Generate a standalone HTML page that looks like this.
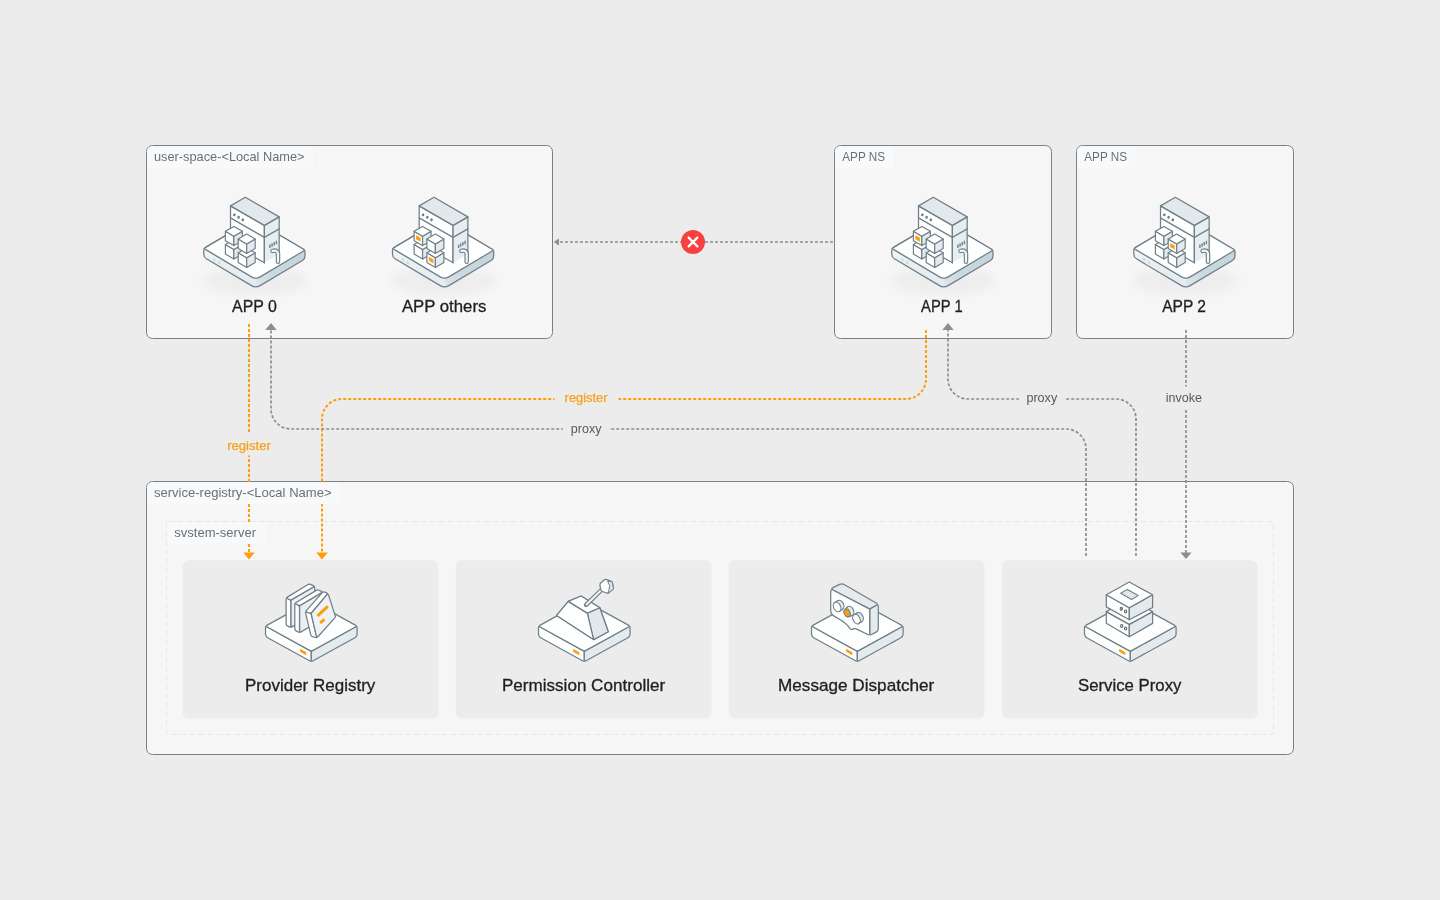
<!DOCTYPE html>
<html lang="en"><head><meta charset="utf-8"><title>Service Registry Architecture</title>
<style>html,body{margin:0;padding:0;background:#ececec;}body{width:1440px;height:900px;overflow:hidden;}svg{display:block;will-change:transform;}text{font-family:"Liberation Sans", "Noto Sans CJK SC", sans-serif;}.lbl{font-size:12.4px;fill:#6c7076;}.ttl{font-size:16.3px;fill:#1f1f1f;stroke:#1f1f1f;stroke-width:0.3px;}.ln{font-size:12.4px;}.g{fill:none;stroke:#8d8d8d;stroke-width:1.7;stroke-dasharray:3 2;}.o{fill:none;stroke:#ff9d0a;stroke-width:2;stroke-dasharray:3 2;}</style></head><body>
<svg width="1440" height="900" viewBox="0 0 1440 900" role="img">
<desc>Architecture diagram: user-space apps register with and are proxied by the service-registry system-server (Provider Registry, Permission Controller, Message Dispatcher, Service Proxy); direct APP 1 to APP 0 access is blocked.</desc>
<defs><filter id="sh" x="-20%" y="-50%" width="140%" height="200%"><feGaussianBlur stdDeviation="4.5"/></filter><linearGradient id="rfg" x1="0" y1="1" x2="1" y2="0"><stop offset="0" stop-color="#e2eaee"/><stop offset="0.35" stop-color="#cbd9e0"/><stop offset="1" stop-color="#c3d3db"/></linearGradient><linearGradient id="lfg" x1="0" y1="0" x2="0" y2="1"><stop offset="0" stop-color="#f8fafb"/><stop offset="0.3" stop-color="#e9f0f4"/><stop offset="1" stop-color="#e2ebf0"/></linearGradient></defs>
<rect x="146.5" y="145.5" width="406" height="193" rx="6" fill="#f6f6f6" stroke="#7a8184" stroke-width="1"/>
<rect x="834.5" y="145.5" width="217" height="193" rx="6" fill="#f6f6f6" stroke="#7a8184" stroke-width="1"/>
<rect x="1076.5" y="145.5" width="217" height="193" rx="6" fill="#f6f6f6" stroke="#7a8184" stroke-width="1"/>
<rect x="146.5" y="481.5" width="1147" height="273" rx="6" fill="#f6f6f6" stroke="#7a8184" stroke-width="1"/>
<rect x="166.5" y="521.5" width="1107" height="213" rx="2" fill="none" stroke="#e7e7e7" stroke-width="1" stroke-dasharray="6 3"/>
<rect x="182.8" y="560.2" width="255.6" height="158.2" rx="6" fill="#ececec"/>
<rect x="455.8" y="560.2" width="255.6" height="158.2" rx="6" fill="#ececec"/>
<rect x="728.8" y="560.2" width="255.6" height="158.2" rx="6" fill="#ececec"/>
<rect x="1001.8" y="560.2" width="255.6" height="158.2" rx="6" fill="#ececec"/>
<path class="o" d="M249 324V552"/>
<path class="o" d="M926 330V379 a20 20 0 0 1 -20 20 H342 a20 20 0 0 0 -20 20 V552"/>
<path class="g" d="M1086 556V449 a20 20 0 0 0 -20 -20 H291 a20 20 0 0 1 -20 -20 V329"/>
<path class="g" d="M1136 556V419 a20 20 0 0 0 -20 -20 H968 a20 20 0 0 1 -20 -20 V329"/>
<path class="g" d="M1186 330V553"/>
<path class="g" d="M833 242H558"/>
<path fill="#ff9d0a" d="M243.3 552.4h11.4l-5.7 7.2z M316.3 552.4h11.4l-5.7 7.2z"/>
<path fill="#8d8d8d" d="M265.3 330h11.4l-5.7 -6.9z M942.3 330h11.4l-5.7 -6.9z M1180.4 552.4h11.2l-5.6 6.6z M559 238.4v7.2l-5.2 -3.6z"/>
<circle cx="693" cy="242" r="12" fill="#f8413f"/>
<path d="M688.6 237.6l8.8 8.8M697.4 237.6l-8.8 8.8" stroke="#fff" stroke-width="2.2" stroke-linecap="round" fill="none"/>
<rect x="219.0" y="432.5" width="60.0" height="23.0" fill="#ececec"/>
<text class="ln" x="227.2" y="450.0" fill="#f8a21c" stroke="#f8a21c" stroke-width="0.25" textLength="43.6" lengthAdjust="spacingAndGlyphs">register</text>
<rect x="554.5" y="387.0" width="64.0" height="23.0" fill="#ececec"/>
<text class="ln" x="564.6" y="402.0" fill="#f8a21c" stroke="#f8a21c" stroke-width="0.25" textLength="43.0" lengthAdjust="spacingAndGlyphs">register</text>
<rect x="563.0" y="418.0" width="46.0" height="23.0" fill="#ececec"/>
<text class="ln" x="570.8" y="432.6" fill="#595959" textLength="30.6" lengthAdjust="spacingAndGlyphs">proxy</text>
<rect x="1019.0" y="387.0" width="46.5" height="23.0" fill="#ececec"/>
<text class="ln" x="1026.4" y="402.0" fill="#595959" textLength="30.8" lengthAdjust="spacingAndGlyphs">proxy</text>
<rect x="1158.0" y="386.5" width="52.0" height="22.0" fill="#ececec"/>
<text class="ln" x="1165.8" y="402.0" fill="#595959" textLength="36.2" lengthAdjust="spacingAndGlyphs">invoke</text>
<path d="M147.0 168.0v-16.5a5.5 5.5 0 0 1 5.5 -5.5h160.8v22z" fill="#f8f9fb"/>
<text class="lbl" x="153.9" y="160.8" textLength="150.7" lengthAdjust="spacingAndGlyphs">user-space-&lt;Local Name&gt;</text>
<path d="M835.0 168.0v-16.5a5.5 5.5 0 0 1 5.5 -5.5h53.2v22z" fill="#f8f9fb"/>
<text class="lbl" x="842.3" y="160.8" textLength="42.7" lengthAdjust="spacingAndGlyphs">APP NS</text>
<path d="M1077.0 168.0v-16.5a5.5 5.5 0 0 1 5.5 -5.5h53.2v22z" fill="#f8f9fb"/>
<text class="lbl" x="1084.3" y="160.8" textLength="42.7" lengthAdjust="spacingAndGlyphs">APP NS</text>
<path d="M147.0 504.0v-16.5a5.5 5.5 0 0 1 5.5 -5.5h187.8v22z" fill="#f8f9fb"/>
<text class="lbl" x="153.9" y="496.8" textLength="177.7" lengthAdjust="spacingAndGlyphs">service-registry-&lt;Local Name&gt;</text>
<path d="M167.0 544.0v-16.5a5.5 5.5 0 0 1 5.5 -5.5h93.0v22z" fill="#f8f9fb"/>
<text class="lbl" x="174.3" y="536.7" textLength="81.7" lengthAdjust="spacingAndGlyphs">svstem-server</text>
<text class="ttl" x="232.0" y="311.7" textLength="44.9" lengthAdjust="spacingAndGlyphs">APP 0</text>
<text class="ttl" x="401.9" y="311.7" textLength="84.5" lengthAdjust="spacingAndGlyphs">APP others</text>
<text class="ttl" x="921.1" y="311.7" textLength="41.5" lengthAdjust="spacingAndGlyphs">APP 1</text>
<text class="ttl" x="1162.2" y="311.7" textLength="43.8" lengthAdjust="spacingAndGlyphs">APP 2</text>
<text class="ttl" x="245.0" y="690.6" textLength="130.3" lengthAdjust="spacingAndGlyphs">Provider Registry</text>
<text class="ttl" x="501.9" y="690.6" textLength="163.3" lengthAdjust="spacingAndGlyphs">Permission Controller</text>
<text class="ttl" x="778.0" y="690.6" textLength="156.3" lengthAdjust="spacingAndGlyphs">Message Dispatcher</text>
<text class="ttl" x="1078.0" y="690.6" textLength="103.4" lengthAdjust="spacingAndGlyphs">Service Proxy</text>
<g><ellipse cx="254.9" cy="280.75" rx="52" ry="15" fill="#e7e7e7" opacity="0.55" filter="url(#sh)"/><path d="M204.91 247.84L248.67 221.85Q252.97 219.3 257.27 221.85L303.89 249.54Q305 250.2 305 251.5L305 256Q305 259 302.42 260.53L260.13 285.65Q255.83 288.2 251.53 285.65L206.38 258.83Q203.8 257.3 203.8 254.3L203.8 249.8Q203.8 248.5 204.91 247.84Z" fill="#eef3f6" stroke="none"/><clipPath id="sc1"><path d="M204.91 247.84L248.67 221.85Q252.97 219.3 257.27 221.85L303.89 249.54Q305 250.2 305 251.5L305 256Q305 259 302.42 260.53L260.13 285.65Q255.83 288.2 251.53 285.65L206.38 258.83Q203.8 257.3 203.8 254.3L203.8 249.8Q203.8 248.5 204.91 247.84Z"/></clipPath><polygon points="255.83,277.4 307,247.2 307,261 255.83,291.2" fill="url(#rfg)" clip-path="url(#sc1)"/><polygon points="201.8,246.5 255.83,277.4 255.83,291.2 201.8,259.3" fill="url(#lfg)" clip-path="url(#sc1)"/><polygon points="213.23,257.7 215.23,258.9 215.23,261.7 213.23,260.5" fill="#cbd7de"/><polygon points="218.11,260.6 220.11,261.8 220.11,264.6 218.11,263.4" fill="#cbd7de"/><path d="M204.91 247.84L248.67 221.85Q252.97 219.3 257.27 221.85L303.89 249.54Q305 250.2 305 251.5L305 256Q305 259 302.42 260.53L260.13 285.65Q255.83 288.2 251.53 285.65L206.38 258.83Q203.8 257.3 203.8 254.3L203.8 249.8Q203.8 248.5 204.91 247.84Z" fill="none" stroke="#717f86" stroke-width="1.25"/><path d="M205.69 247.38L248.67 221.85Q252.97 219.3 257.27 221.85L303.11 249.08Q305 250.2 303.11 251.32L260.13 276.85Q255.83 279.4 251.53 276.85L205.69 249.62Q203.8 248.5 205.69 247.38Z" fill="#fdfefe" stroke="#717f86" stroke-width="1.25" stroke-linejoin="round"/><polygon points="230.5,205.85 264.36,225.4 264.36,262.8 230.5,243.25" fill="#fdfefe" stroke="#717f86" stroke-width="1.25" stroke-linejoin="round"/><polygon points="264.36,225.4 279.17,216.85 279.17,254.25 264.36,262.8" fill="#e7eef1" stroke="none" stroke-width="1.25" stroke-linejoin="round"/><polyline points="264.36,262.8 264.36,225.4 279.17,216.85 279.17,254.25" fill="none" stroke="#717f86" stroke-width="1.25" stroke-linejoin="round" stroke-linecap="round"/><polygon points="245.31,197.3 279.17,216.85 264.36,225.4 230.5,205.85" fill="#e2e9ed" stroke="#717f86" stroke-width="1.25" stroke-linejoin="round"/><polyline points="230.5,217.85 264.36,237.4 279.17,228.85" fill="none" stroke="#717f86" stroke-width="1.25" stroke-linejoin="round" stroke-linecap="round"/><ellipse cx="234.31" cy="214.85" rx="1.25" ry="1.45" fill="#6c7a81" transform="rotate(30 234.31 214.85)"/><ellipse cx="238.55" cy="217.3" rx="1.25" ry="1.45" fill="#6c7a81" transform="rotate(30 238.55 217.3)"/><ellipse cx="242.8" cy="219.75" rx="1.25" ry="1.45" fill="#6c7a81" transform="rotate(30 242.8 219.75)"/><polyline points="269.9,248 269.9,244.6" fill="none" stroke="#76838a" stroke-width="1.45" stroke-linejoin="round" stroke-linecap="butt"/><polyline points="272.07,246.75 272.07,243.35" fill="none" stroke="#76838a" stroke-width="1.45" stroke-linejoin="round" stroke-linecap="butt"/><polyline points="274.23,245.5 274.23,242.1" fill="none" stroke="#76838a" stroke-width="1.45" stroke-linejoin="round" stroke-linecap="butt"/><polyline points="276.4,244.25 276.4,240.85" fill="none" stroke="#76838a" stroke-width="1.45" stroke-linejoin="round" stroke-linecap="butt"/><path d="M272.59 250.85 q4.6 -1.2 5.4 2.6 v8.4" fill="none" stroke="#717f86" stroke-width="4.5" stroke-linecap="round"/><path d="M272.59 250.85 q4.6 -1.2 5.4 2.6 v8.4" fill="none" stroke="#f3f7f9" stroke-width="2.2" stroke-linecap="round"/><polygon points="225.39,244.5 233.88,249.4 233.88,259 225.39,254.1" fill="#fdfefe" stroke="#717f86" stroke-width="1.2" stroke-linejoin="round"/><polygon points="233.88,249.4 242.36,244.5 242.36,254.1 233.88,259" fill="#e3ebef" stroke="#717f86" stroke-width="1.2" stroke-linejoin="round"/><polygon points="233.88,239.6 242.36,244.5 233.88,249.4 225.39,244.5" fill="#fdfefe" stroke="#717f86" stroke-width="1.2" stroke-linejoin="round"/><polygon points="225.39,231.3 233.88,236.2 233.88,245.6 225.39,240.7" fill="#fdfefe" stroke="#717f86" stroke-width="1.2" stroke-linejoin="round"/><polygon points="233.88,236.2 242.36,231.3 242.36,240.7 233.88,245.6" fill="#e3ebef" stroke="#717f86" stroke-width="1.2" stroke-linejoin="round"/><polygon points="233.88,226.4 242.36,231.3 233.88,236.2 225.39,231.3" fill="#fdfefe" stroke="#717f86" stroke-width="1.2" stroke-linejoin="round"/><polygon points="238.21,252.8 246.69,257.7 246.69,267.5 238.21,262.6" fill="#fdfefe" stroke="#717f86" stroke-width="1.2" stroke-linejoin="round"/><polygon points="246.69,257.7 255.18,252.8 255.18,262.6 246.69,267.5" fill="#e3ebef" stroke="#717f86" stroke-width="1.2" stroke-linejoin="round"/><polygon points="246.69,247.9 255.18,252.8 246.69,257.7 238.21,252.8" fill="#fdfefe" stroke="#717f86" stroke-width="1.2" stroke-linejoin="round"/><polygon points="238.21,239 246.69,243.9 246.69,253.5 238.21,248.6" fill="#fdfefe" stroke="#717f86" stroke-width="1.2" stroke-linejoin="round"/><polygon points="246.69,243.9 255.18,239 255.18,248.6 246.69,253.5" fill="#e3ebef" stroke="#717f86" stroke-width="1.2" stroke-linejoin="round"/><polygon points="246.69,234.1 255.18,239 246.69,243.9 238.21,239" fill="#fdfefe" stroke="#717f86" stroke-width="1.2" stroke-linejoin="round"/></g>
<g><ellipse cx="443.6" cy="280.75" rx="52" ry="15" fill="#e7e7e7" opacity="0.55" filter="url(#sh)"/><path d="M393.61 247.84L437.37 221.85Q441.67 219.3 445.97 221.85L492.59 249.54Q493.7 250.2 493.7 251.5L493.7 256Q493.7 259 491.12 260.53L448.83 285.65Q444.53 288.2 440.23 285.65L395.08 258.83Q392.5 257.3 392.5 254.3L392.5 249.8Q392.5 248.5 393.61 247.84Z" fill="#eef3f6" stroke="none"/><clipPath id="sc2"><path d="M393.61 247.84L437.37 221.85Q441.67 219.3 445.97 221.85L492.59 249.54Q493.7 250.2 493.7 251.5L493.7 256Q493.7 259 491.12 260.53L448.83 285.65Q444.53 288.2 440.23 285.65L395.08 258.83Q392.5 257.3 392.5 254.3L392.5 249.8Q392.5 248.5 393.61 247.84Z"/></clipPath><polygon points="444.53,277.4 495.7,247.2 495.7,261 444.53,291.2" fill="url(#rfg)" clip-path="url(#sc2)"/><polygon points="390.5,246.5 444.53,277.4 444.53,291.2 390.5,259.3" fill="url(#lfg)" clip-path="url(#sc2)"/><polygon points="401.93,257.7 403.93,258.9 403.93,261.7 401.93,260.5" fill="#cbd7de"/><polygon points="406.81,260.6 408.81,261.8 408.81,264.6 406.81,263.4" fill="#cbd7de"/><path d="M393.61 247.84L437.37 221.85Q441.67 219.3 445.97 221.85L492.59 249.54Q493.7 250.2 493.7 251.5L493.7 256Q493.7 259 491.12 260.53L448.83 285.65Q444.53 288.2 440.23 285.65L395.08 258.83Q392.5 257.3 392.5 254.3L392.5 249.8Q392.5 248.5 393.61 247.84Z" fill="none" stroke="#717f86" stroke-width="1.25"/><path d="M394.39 247.38L437.37 221.85Q441.67 219.3 445.97 221.85L491.81 249.08Q493.7 250.2 491.81 251.32L448.83 276.85Q444.53 279.4 440.23 276.85L394.39 249.62Q392.5 248.5 394.39 247.38Z" fill="#fdfefe" stroke="#717f86" stroke-width="1.25" stroke-linejoin="round"/><polygon points="419.2,205.85 453.06,225.4 453.06,262.8 419.2,243.25" fill="#fdfefe" stroke="#717f86" stroke-width="1.25" stroke-linejoin="round"/><polygon points="453.06,225.4 467.87,216.85 467.87,254.25 453.06,262.8" fill="#e7eef1" stroke="none" stroke-width="1.25" stroke-linejoin="round"/><polyline points="453.06,262.8 453.06,225.4 467.87,216.85 467.87,254.25" fill="none" stroke="#717f86" stroke-width="1.25" stroke-linejoin="round" stroke-linecap="round"/><polygon points="434.01,197.3 467.87,216.85 453.06,225.4 419.2,205.85" fill="#e2e9ed" stroke="#717f86" stroke-width="1.25" stroke-linejoin="round"/><polyline points="419.2,217.85 453.06,237.4 467.87,228.85" fill="none" stroke="#717f86" stroke-width="1.25" stroke-linejoin="round" stroke-linecap="round"/><ellipse cx="423.01" cy="214.85" rx="1.25" ry="1.45" fill="#6c7a81" transform="rotate(30 423.01 214.85)"/><ellipse cx="427.25" cy="217.3" rx="1.25" ry="1.45" fill="#6c7a81" transform="rotate(30 427.25 217.3)"/><ellipse cx="431.5" cy="219.75" rx="1.25" ry="1.45" fill="#6c7a81" transform="rotate(30 431.5 219.75)"/><polyline points="458.6,248 458.6,244.6" fill="none" stroke="#76838a" stroke-width="1.45" stroke-linejoin="round" stroke-linecap="butt"/><polyline points="460.77,246.75 460.77,243.35" fill="none" stroke="#76838a" stroke-width="1.45" stroke-linejoin="round" stroke-linecap="butt"/><polyline points="462.93,245.5 462.93,242.1" fill="none" stroke="#76838a" stroke-width="1.45" stroke-linejoin="round" stroke-linecap="butt"/><polyline points="465.1,244.25 465.1,240.85" fill="none" stroke="#76838a" stroke-width="1.45" stroke-linejoin="round" stroke-linecap="butt"/><path d="M461.29 250.85 q4.6 -1.2 5.4 2.6 v8.4" fill="none" stroke="#717f86" stroke-width="4.5" stroke-linecap="round"/><path d="M461.29 250.85 q4.6 -1.2 5.4 2.6 v8.4" fill="none" stroke="#f3f7f9" stroke-width="2.2" stroke-linecap="round"/><polygon points="414.09,244.5 422.58,249.4 422.58,259 414.09,254.1" fill="#fdfefe" stroke="#717f86" stroke-width="1.2" stroke-linejoin="round"/><polygon points="422.58,249.4 431.06,244.5 431.06,254.1 422.58,259" fill="#e3ebef" stroke="#717f86" stroke-width="1.2" stroke-linejoin="round"/><polygon points="422.58,239.6 431.06,244.5 422.58,249.4 414.09,244.5" fill="#fdfefe" stroke="#717f86" stroke-width="1.2" stroke-linejoin="round"/><polygon points="414.09,231.3 422.58,236.2 422.58,245.6 414.09,240.7" fill="#fdfefe" stroke="#717f86" stroke-width="1.2" stroke-linejoin="round"/><polygon points="422.58,236.2 431.06,231.3 431.06,240.7 422.58,245.6" fill="#e3ebef" stroke="#717f86" stroke-width="1.2" stroke-linejoin="round"/><polygon points="422.58,226.4 431.06,231.3 422.58,236.2 414.09,231.3" fill="#fdfefe" stroke="#717f86" stroke-width="1.2" stroke-linejoin="round"/><polygon points="416.08,235.15 420.58,237.75 420.58,241.75 416.08,239.15" fill="#ff9d0a"/><polygon points="426.91,252.8 435.39,257.7 435.39,267.5 426.91,262.6" fill="#fdfefe" stroke="#717f86" stroke-width="1.2" stroke-linejoin="round"/><polygon points="435.39,257.7 443.88,252.8 443.88,262.6 435.39,267.5" fill="#e3ebef" stroke="#717f86" stroke-width="1.2" stroke-linejoin="round"/><polygon points="435.39,247.9 443.88,252.8 435.39,257.7 426.91,252.8" fill="#fdfefe" stroke="#717f86" stroke-width="1.2" stroke-linejoin="round"/><polygon points="428.9,256.85 433.4,259.45 433.4,263.45 428.9,260.85" fill="#ff9d0a"/><polygon points="426.91,239 435.39,243.9 435.39,253.5 426.91,248.6" fill="#fdfefe" stroke="#717f86" stroke-width="1.2" stroke-linejoin="round"/><polygon points="435.39,243.9 443.88,239 443.88,248.6 435.39,253.5" fill="#e3ebef" stroke="#717f86" stroke-width="1.2" stroke-linejoin="round"/><polygon points="435.39,234.1 443.88,239 435.39,243.9 426.91,239" fill="#fdfefe" stroke="#717f86" stroke-width="1.2" stroke-linejoin="round"/></g>
<g><ellipse cx="942.9" cy="280.75" rx="52" ry="15" fill="#e7e7e7" opacity="0.55" filter="url(#sh)"/><path d="M892.91 247.84L936.67 221.85Q940.97 219.3 945.27 221.85L991.89 249.54Q993 250.2 993 251.5L993 256Q993 259 990.42 260.53L948.13 285.65Q943.83 288.2 939.53 285.65L894.38 258.83Q891.8 257.3 891.8 254.3L891.8 249.8Q891.8 248.5 892.91 247.84Z" fill="#eef3f6" stroke="none"/><clipPath id="sc3"><path d="M892.91 247.84L936.67 221.85Q940.97 219.3 945.27 221.85L991.89 249.54Q993 250.2 993 251.5L993 256Q993 259 990.42 260.53L948.13 285.65Q943.83 288.2 939.53 285.65L894.38 258.83Q891.8 257.3 891.8 254.3L891.8 249.8Q891.8 248.5 892.91 247.84Z"/></clipPath><polygon points="943.83,277.4 995,247.2 995,261 943.83,291.2" fill="url(#rfg)" clip-path="url(#sc3)"/><polygon points="889.8,246.5 943.83,277.4 943.83,291.2 889.8,259.3" fill="url(#lfg)" clip-path="url(#sc3)"/><polygon points="901.23,257.7 903.23,258.9 903.23,261.7 901.23,260.5" fill="#cbd7de"/><polygon points="906.11,260.6 908.11,261.8 908.11,264.6 906.11,263.4" fill="#cbd7de"/><path d="M892.91 247.84L936.67 221.85Q940.97 219.3 945.27 221.85L991.89 249.54Q993 250.2 993 251.5L993 256Q993 259 990.42 260.53L948.13 285.65Q943.83 288.2 939.53 285.65L894.38 258.83Q891.8 257.3 891.8 254.3L891.8 249.8Q891.8 248.5 892.91 247.84Z" fill="none" stroke="#717f86" stroke-width="1.25"/><path d="M893.69 247.38L936.67 221.85Q940.97 219.3 945.27 221.85L991.11 249.08Q993 250.2 991.11 251.32L948.13 276.85Q943.83 279.4 939.53 276.85L893.69 249.62Q891.8 248.5 893.69 247.38Z" fill="#fdfefe" stroke="#717f86" stroke-width="1.25" stroke-linejoin="round"/><polygon points="918.5,205.85 952.36,225.4 952.36,262.8 918.5,243.25" fill="#fdfefe" stroke="#717f86" stroke-width="1.25" stroke-linejoin="round"/><polygon points="952.36,225.4 967.17,216.85 967.17,254.25 952.36,262.8" fill="#e7eef1" stroke="none" stroke-width="1.25" stroke-linejoin="round"/><polyline points="952.36,262.8 952.36,225.4 967.17,216.85 967.17,254.25" fill="none" stroke="#717f86" stroke-width="1.25" stroke-linejoin="round" stroke-linecap="round"/><polygon points="933.31,197.3 967.17,216.85 952.36,225.4 918.5,205.85" fill="#e2e9ed" stroke="#717f86" stroke-width="1.25" stroke-linejoin="round"/><polyline points="918.5,217.85 952.36,237.4 967.17,228.85" fill="none" stroke="#717f86" stroke-width="1.25" stroke-linejoin="round" stroke-linecap="round"/><ellipse cx="922.31" cy="214.85" rx="1.25" ry="1.45" fill="#6c7a81" transform="rotate(30 922.31 214.85)"/><ellipse cx="926.55" cy="217.3" rx="1.25" ry="1.45" fill="#6c7a81" transform="rotate(30 926.55 217.3)"/><ellipse cx="930.8" cy="219.75" rx="1.25" ry="1.45" fill="#6c7a81" transform="rotate(30 930.8 219.75)"/><polyline points="957.9,248 957.9,244.6" fill="none" stroke="#76838a" stroke-width="1.45" stroke-linejoin="round" stroke-linecap="butt"/><polyline points="960.07,246.75 960.07,243.35" fill="none" stroke="#76838a" stroke-width="1.45" stroke-linejoin="round" stroke-linecap="butt"/><polyline points="962.23,245.5 962.23,242.1" fill="none" stroke="#76838a" stroke-width="1.45" stroke-linejoin="round" stroke-linecap="butt"/><polyline points="964.4,244.25 964.4,240.85" fill="none" stroke="#76838a" stroke-width="1.45" stroke-linejoin="round" stroke-linecap="butt"/><path d="M960.59 250.85 q4.6 -1.2 5.4 2.6 v8.4" fill="none" stroke="#717f86" stroke-width="4.5" stroke-linecap="round"/><path d="M960.59 250.85 q4.6 -1.2 5.4 2.6 v8.4" fill="none" stroke="#f3f7f9" stroke-width="2.2" stroke-linecap="round"/><polygon points="913.39,244.5 921.88,249.4 921.88,259 913.39,254.1" fill="#fdfefe" stroke="#717f86" stroke-width="1.2" stroke-linejoin="round"/><polygon points="921.88,249.4 930.36,244.5 930.36,254.1 921.88,259" fill="#e3ebef" stroke="#717f86" stroke-width="1.2" stroke-linejoin="round"/><polygon points="921.88,239.6 930.36,244.5 921.88,249.4 913.39,244.5" fill="#fdfefe" stroke="#717f86" stroke-width="1.2" stroke-linejoin="round"/><polygon points="913.39,231.3 921.88,236.2 921.88,245.6 913.39,240.7" fill="#fdfefe" stroke="#717f86" stroke-width="1.2" stroke-linejoin="round"/><polygon points="921.88,236.2 930.36,231.3 930.36,240.7 921.88,245.6" fill="#e3ebef" stroke="#717f86" stroke-width="1.2" stroke-linejoin="round"/><polygon points="921.88,226.4 930.36,231.3 921.88,236.2 913.39,231.3" fill="#fdfefe" stroke="#717f86" stroke-width="1.2" stroke-linejoin="round"/><polygon points="915.38,235.15 919.88,237.75 919.88,241.75 915.38,239.15" fill="#ff9d0a"/><polygon points="926.21,252.8 934.69,257.7 934.69,267.5 926.21,262.6" fill="#fdfefe" stroke="#717f86" stroke-width="1.2" stroke-linejoin="round"/><polygon points="934.69,257.7 943.18,252.8 943.18,262.6 934.69,267.5" fill="#e3ebef" stroke="#717f86" stroke-width="1.2" stroke-linejoin="round"/><polygon points="934.69,247.9 943.18,252.8 934.69,257.7 926.21,252.8" fill="#fdfefe" stroke="#717f86" stroke-width="1.2" stroke-linejoin="round"/><polygon points="926.21,239 934.69,243.9 934.69,253.5 926.21,248.6" fill="#fdfefe" stroke="#717f86" stroke-width="1.2" stroke-linejoin="round"/><polygon points="934.69,243.9 943.18,239 943.18,248.6 934.69,253.5" fill="#e3ebef" stroke="#717f86" stroke-width="1.2" stroke-linejoin="round"/><polygon points="934.69,234.1 943.18,239 934.69,243.9 926.21,239" fill="#fdfefe" stroke="#717f86" stroke-width="1.2" stroke-linejoin="round"/></g>
<g><ellipse cx="1184.9" cy="280.75" rx="52" ry="15" fill="#e7e7e7" opacity="0.55" filter="url(#sh)"/><path d="M1134.91 247.84L1178.67 221.85Q1182.97 219.3 1187.27 221.85L1233.89 249.54Q1235 250.2 1235 251.5L1235 256Q1235 259 1232.42 260.53L1190.13 285.65Q1185.83 288.2 1181.53 285.65L1136.38 258.83Q1133.8 257.3 1133.8 254.3L1133.8 249.8Q1133.8 248.5 1134.91 247.84Z" fill="#eef3f6" stroke="none"/><clipPath id="sc4"><path d="M1134.91 247.84L1178.67 221.85Q1182.97 219.3 1187.27 221.85L1233.89 249.54Q1235 250.2 1235 251.5L1235 256Q1235 259 1232.42 260.53L1190.13 285.65Q1185.83 288.2 1181.53 285.65L1136.38 258.83Q1133.8 257.3 1133.8 254.3L1133.8 249.8Q1133.8 248.5 1134.91 247.84Z"/></clipPath><polygon points="1185.83,277.4 1237,247.2 1237,261 1185.83,291.2" fill="url(#rfg)" clip-path="url(#sc4)"/><polygon points="1131.8,246.5 1185.83,277.4 1185.83,291.2 1131.8,259.3" fill="url(#lfg)" clip-path="url(#sc4)"/><polygon points="1143.23,257.7 1145.23,258.9 1145.23,261.7 1143.23,260.5" fill="#cbd7de"/><polygon points="1148.11,260.6 1150.11,261.8 1150.11,264.6 1148.11,263.4" fill="#cbd7de"/><path d="M1134.91 247.84L1178.67 221.85Q1182.97 219.3 1187.27 221.85L1233.89 249.54Q1235 250.2 1235 251.5L1235 256Q1235 259 1232.42 260.53L1190.13 285.65Q1185.83 288.2 1181.53 285.65L1136.38 258.83Q1133.8 257.3 1133.8 254.3L1133.8 249.8Q1133.8 248.5 1134.91 247.84Z" fill="none" stroke="#717f86" stroke-width="1.25"/><path d="M1135.69 247.38L1178.67 221.85Q1182.97 219.3 1187.27 221.85L1233.11 249.08Q1235 250.2 1233.11 251.32L1190.13 276.85Q1185.83 279.4 1181.53 276.85L1135.69 249.62Q1133.8 248.5 1135.69 247.38Z" fill="#fdfefe" stroke="#717f86" stroke-width="1.25" stroke-linejoin="round"/><polygon points="1160.5,205.85 1194.36,225.4 1194.36,262.8 1160.5,243.25" fill="#fdfefe" stroke="#717f86" stroke-width="1.25" stroke-linejoin="round"/><polygon points="1194.36,225.4 1209.17,216.85 1209.17,254.25 1194.36,262.8" fill="#e7eef1" stroke="none" stroke-width="1.25" stroke-linejoin="round"/><polyline points="1194.36,262.8 1194.36,225.4 1209.17,216.85 1209.17,254.25" fill="none" stroke="#717f86" stroke-width="1.25" stroke-linejoin="round" stroke-linecap="round"/><polygon points="1175.31,197.3 1209.17,216.85 1194.36,225.4 1160.5,205.85" fill="#e2e9ed" stroke="#717f86" stroke-width="1.25" stroke-linejoin="round"/><polyline points="1160.5,217.85 1194.36,237.4 1209.17,228.85" fill="none" stroke="#717f86" stroke-width="1.25" stroke-linejoin="round" stroke-linecap="round"/><ellipse cx="1164.31" cy="214.85" rx="1.25" ry="1.45" fill="#6c7a81" transform="rotate(30 1164.31 214.85)"/><ellipse cx="1168.55" cy="217.3" rx="1.25" ry="1.45" fill="#6c7a81" transform="rotate(30 1168.55 217.3)"/><ellipse cx="1172.8" cy="219.75" rx="1.25" ry="1.45" fill="#6c7a81" transform="rotate(30 1172.8 219.75)"/><polyline points="1199.9,248 1199.9,244.6" fill="none" stroke="#76838a" stroke-width="1.45" stroke-linejoin="round" stroke-linecap="butt"/><polyline points="1202.07,246.75 1202.07,243.35" fill="none" stroke="#76838a" stroke-width="1.45" stroke-linejoin="round" stroke-linecap="butt"/><polyline points="1204.23,245.5 1204.23,242.1" fill="none" stroke="#76838a" stroke-width="1.45" stroke-linejoin="round" stroke-linecap="butt"/><polyline points="1206.4,244.25 1206.4,240.85" fill="none" stroke="#76838a" stroke-width="1.45" stroke-linejoin="round" stroke-linecap="butt"/><path d="M1202.59 250.85 q4.6 -1.2 5.4 2.6 v8.4" fill="none" stroke="#717f86" stroke-width="4.5" stroke-linecap="round"/><path d="M1202.59 250.85 q4.6 -1.2 5.4 2.6 v8.4" fill="none" stroke="#f3f7f9" stroke-width="2.2" stroke-linecap="round"/><polygon points="1155.39,244.5 1163.88,249.4 1163.88,259 1155.39,254.1" fill="#fdfefe" stroke="#717f86" stroke-width="1.2" stroke-linejoin="round"/><polygon points="1163.88,249.4 1172.36,244.5 1172.36,254.1 1163.88,259" fill="#e3ebef" stroke="#717f86" stroke-width="1.2" stroke-linejoin="round"/><polygon points="1163.88,239.6 1172.36,244.5 1163.88,249.4 1155.39,244.5" fill="#fdfefe" stroke="#717f86" stroke-width="1.2" stroke-linejoin="round"/><polygon points="1155.39,231.3 1163.88,236.2 1163.88,245.6 1155.39,240.7" fill="#fdfefe" stroke="#717f86" stroke-width="1.2" stroke-linejoin="round"/><polygon points="1163.88,236.2 1172.36,231.3 1172.36,240.7 1163.88,245.6" fill="#e3ebef" stroke="#717f86" stroke-width="1.2" stroke-linejoin="round"/><polygon points="1163.88,226.4 1172.36,231.3 1163.88,236.2 1155.39,231.3" fill="#fdfefe" stroke="#717f86" stroke-width="1.2" stroke-linejoin="round"/><polygon points="1168.21,252.8 1176.69,257.7 1176.69,267.5 1168.21,262.6" fill="#fdfefe" stroke="#717f86" stroke-width="1.2" stroke-linejoin="round"/><polygon points="1176.69,257.7 1185.18,252.8 1185.18,262.6 1176.69,267.5" fill="#e3ebef" stroke="#717f86" stroke-width="1.2" stroke-linejoin="round"/><polygon points="1176.69,247.9 1185.18,252.8 1176.69,257.7 1168.21,252.8" fill="#fdfefe" stroke="#717f86" stroke-width="1.2" stroke-linejoin="round"/><polygon points="1168.21,239 1176.69,243.9 1176.69,253.5 1168.21,248.6" fill="#fdfefe" stroke="#717f86" stroke-width="1.2" stroke-linejoin="round"/><polygon points="1176.69,243.9 1185.18,239 1185.18,248.6 1176.69,253.5" fill="#e3ebef" stroke="#717f86" stroke-width="1.2" stroke-linejoin="round"/><polygon points="1176.69,234.1 1185.18,239 1176.69,243.9 1168.21,239" fill="#fdfefe" stroke="#717f86" stroke-width="1.2" stroke-linejoin="round"/><polygon points="1170.2,242.95 1174.7,245.55 1174.7,249.55 1170.2,246.95" fill="#ff9d0a"/></g>
<g><path d="M266.81 626.82L310.86 651.05Q311.3 651.29 311.3 651.79L311.3 660.19Q311.3 661.69 309.99 660.97L267.69 637.7Q265.5 636.5 265.5 634L265.5 627.6Q265.5 626.1 266.81 626.82Z" fill="#fdfefe" stroke="#717f86" stroke-width="1.25" stroke-linejoin="round"/><path d="M311.74 651.05L355.79 626.82Q357.1 626.1 357.1 627.6L357.1 634Q357.1 636.5 354.91 637.7L312.61 660.97Q311.3 661.69 311.3 660.19L311.3 651.79Q311.3 651.29 311.74 651.05Z" fill="#e3ebef" stroke="#717f86" stroke-width="1.25" stroke-linejoin="round"/><path d="M267.25 625.14L309.55 601.87Q311.3 600.91 313.05 601.87L355.35 625.14Q357.1 626.1 355.35 627.06L313.05 650.33Q311.3 651.29 309.55 650.33L267.25 627.06Q265.5 626.1 267.25 625.14Z" fill="#fdfefe" stroke="#717f86" stroke-width="1.25" stroke-linejoin="round"/><polygon points="300.1,648.73 306.3,652.13 306.3,655.13 300.1,651.73" fill="#ff9d0a"/><path d="M291.84 599.5L313.66 586.9Q314.7 586.3 314.7 587.5L314.7 612.9Q314.7 614.1 313.65 614.69L291.85 626.91Q290.8 627.5 290.8 626.3L290.8 601.3Q290.8 600.1 291.84 599.5Z" fill="#e9eff2" stroke="#717f86" stroke-width="1.25" stroke-linejoin="round"/><path d="M287.46 598.54L289.44 599.46Q290.8 600.1 290.8 601.6L290.8 626Q290.8 627.5 289.44 626.86L287.46 625.94Q286.1 625.3 286.1 623.8L286.1 599.4Q286.1 597.9 287.46 598.54Z" fill="#fdfefe" stroke="#717f86" stroke-width="1.25" stroke-linejoin="round"/><path d="M287.38 597.12L308.02 584.58Q309.3 583.8 310.66 584.43L313.34 585.67Q314.7 586.3 313.4 587.05L292.1 599.35Q290.8 600.1 289.44 599.46L287.46 598.54Q286.1 597.9 287.38 597.12Z" fill="#fdfefe" stroke="#717f86" stroke-width="1.25" stroke-linejoin="round"/><path d="M300.53 605.19L321.57 592.71Q322.6 592.1 322.6 593.3L322.6 617.9Q322.6 619.1 321.57 619.71L300.53 632.09Q299.5 632.7 299.5 631.5L299.5 607Q299.5 605.8 300.53 605.19Z" fill="#e9eff2" stroke="#717f86" stroke-width="1.25" stroke-linejoin="round"/><path d="M296.12 604L298.18 605.1Q299.5 605.8 299.5 607.3L299.5 631.2Q299.5 632.7 298.18 632L296.12 630.9Q294.8 630.2 294.8 628.7L294.8 604.8Q294.8 603.3 296.12 604Z" fill="#fdfefe" stroke="#717f86" stroke-width="1.25" stroke-linejoin="round"/><path d="M296.09 602.53L316.31 590.37Q317.6 589.6 318.94 590.27L321.26 591.43Q322.6 592.1 321.31 592.87L300.79 605.03Q299.5 605.8 298.18 605.1L296.12 604Q294.8 603.3 296.09 602.53Z" fill="#fdfefe" stroke="#717f86" stroke-width="1.25" stroke-linejoin="round"/><path d="M306.74 612.12L309.66 612.98Q311.1 613.4 311.44 614.86L316.46 636.44Q316.8 637.9 315.36 637.49L312.54 636.71Q311.1 636.3 310.76 634.84L305.64 613.16Q305.3 611.7 306.74 612.12Z" fill="#fdfefe" stroke="#717f86" stroke-width="1.25" stroke-linejoin="round"/><path d="M306.3 610.58L322.3 592.62Q323.3 591.5 324.68 592.09L326.62 592.91Q328 593.5 327.03 594.64L312.07 612.26Q311.1 613.4 309.66 612.98L306.74 612.12Q305.3 611.7 306.3 610.58Z" fill="#fdfefe" stroke="#717f86" stroke-width="1.25" stroke-linejoin="round"/><path d="M312.07 612.26L327.03 594.64Q328 593.5 328.46 594.93L335.14 615.57Q335.6 617 334.6 618.12L317.8 636.78Q316.8 637.9 316.46 636.44L311.44 614.86Q311.1 613.4 312.07 612.26Z" fill="#eef3f6" stroke="#717f86" stroke-width="1.25" stroke-linejoin="round"/><polyline points="317.6,615.8 327.8,606.4" fill="none" stroke="#ff9d0a" stroke-width="3.1" stroke-linejoin="round" stroke-linecap="butt"/><polyline points="320.1,622.9 324.5,619.3" fill="none" stroke="#ff9d0a" stroke-width="3.0" stroke-linejoin="round" stroke-linecap="butt"/></g>
<g><path d="M539.81 626.82L583.86 651.05Q584.3 651.29 584.3 651.79L584.3 660.19Q584.3 661.69 582.99 660.97L540.69 637.7Q538.5 636.5 538.5 634L538.5 627.6Q538.5 626.1 539.81 626.82Z" fill="#fdfefe" stroke="#717f86" stroke-width="1.25" stroke-linejoin="round"/><path d="M584.74 651.05L628.79 626.82Q630.1 626.1 630.1 627.6L630.1 634Q630.1 636.5 627.91 637.7L585.61 660.97Q584.3 661.69 584.3 660.19L584.3 651.79Q584.3 651.29 584.74 651.05Z" fill="#e3ebef" stroke="#717f86" stroke-width="1.25" stroke-linejoin="round"/><path d="M540.25 625.14L582.55 601.87Q584.3 600.91 586.05 601.87L628.35 625.14Q630.1 626.1 628.35 627.06L586.05 650.33Q584.3 651.29 582.55 650.33L540.25 627.06Q538.5 626.1 540.25 625.14Z" fill="#fdfefe" stroke="#717f86" stroke-width="1.25" stroke-linejoin="round"/><polygon points="573.1,648.73 579.3,652.13 579.3,655.13 573.1,651.73" fill="#ff9d0a"/><polygon points="568.3,601.4 581.1,596 599.8,607.7 608.3,631.8 593.6,639.6 556.6,615.4" fill="#fdfefe" stroke="#717f86" stroke-width="1.25" stroke-linejoin="round"/><polygon points="587.3,613.1 599.8,607.7 608.3,631.8 593.6,639.6" fill="#e1e9ed" stroke="#717f86" stroke-width="1.25" stroke-linejoin="round"/><polygon points="568.3,601.4 587.3,613.1 593.6,639.6 556.6,615.4" fill="#fdfefe" stroke="#717f86" stroke-width="1.25" stroke-linejoin="round"/><polygon points="568.3,601.4 581.1,596 599.8,607.7 587.3,613.1" fill="#fdfefe" stroke="#717f86" stroke-width="1.25" stroke-linejoin="round"/><polygon points="584.1,605.1 586.3,603.9 588.3,605.1 586.1,606.3" fill="#dbe4e9" stroke="#717f86" stroke-width="1.0" stroke-linejoin="round"/><polyline points="586.1,604.9 601.9,589.5" fill="none" stroke="#717f86" stroke-width="4.4" stroke-linejoin="round" stroke-linecap="round"/><polyline points="586.5,604.5 601.9,589.5" fill="none" stroke="#f1f5f7" stroke-width="2.0" stroke-linejoin="round" stroke-linecap="round"/><path d="M612.31 589.76L609.02 592.52Q607.87 593.49 606.46 592.98L602.42 591.51Q601.01 590.99 600.75 589.52L600 585.28Q599.74 583.8 600.89 582.84L604.18 580.08Q605.33 579.11 606.74 579.62L610.78 581.09Q612.19 581.61 612.45 583.08L613.2 587.32Q613.46 588.8 612.31 589.76Z" fill="#fdfefe" stroke="#717f86" stroke-width="1.25" stroke-linejoin="round"/><polygon points="612.19,581.61 613.46,588.8 607.87,593.49 608.8,590.3 609.8,585.8 607.6,581.3" fill="#dfe8ec" stroke="#717f86" stroke-width="1.0" stroke-linejoin="round"/></g>
<g><path d="M812.81 626.82L856.86 651.05Q857.3 651.29 857.3 651.79L857.3 660.19Q857.3 661.69 855.99 660.97L813.69 637.7Q811.5 636.5 811.5 634L811.5 627.6Q811.5 626.1 812.81 626.82Z" fill="#fdfefe" stroke="#717f86" stroke-width="1.25" stroke-linejoin="round"/><path d="M857.74 651.05L901.79 626.82Q903.1 626.1 903.1 627.6L903.1 634Q903.1 636.5 900.91 637.7L858.61 660.97Q857.3 661.69 857.3 660.19L857.3 651.79Q857.3 651.29 857.74 651.05Z" fill="#e3ebef" stroke="#717f86" stroke-width="1.25" stroke-linejoin="round"/><path d="M813.25 625.14L855.55 601.87Q857.3 600.91 859.05 601.87L901.35 625.14Q903.1 626.1 901.35 627.06L859.05 650.33Q857.3 651.29 855.55 650.33L813.25 627.06Q811.5 626.1 813.25 625.14Z" fill="#fdfefe" stroke="#717f86" stroke-width="1.25" stroke-linejoin="round"/><polygon points="846.1,648.73 852.3,652.13 852.3,655.13 846.1,651.73" fill="#ff9d0a"/><path d="M832.94 587.68L839.66 584.32Q841.9 583.2 844.07 584.45L876.57 603.2Q878.3 604.2 876.56 605.19L870.57 608.6Q869.7 609.1 868.81 608.64L832.92 589.95Q830.7 588.8 832.94 587.68Z" fill="#e3ebef" stroke="#717f86" stroke-width="1.25" stroke-linejoin="round"/><path d="M870.57 608.6L876.56 605.19Q878.3 604.2 878.3 606.2L878.3 628.4Q878.3 630.9 876.1 632.08L871.46 634.56Q869.7 635.5 869.7 633.5L869.7 610.1Q869.7 609.1 870.57 608.6Z" fill="#e3ebef" stroke="#717f86" stroke-width="1.25" stroke-linejoin="round"/><path d="M833.36 590.19L868.81 608.64Q869.7 609.1 869.7 610.1L869.7 633.3Q869.7 635.5 867.73 634.52L856.27 628.83Q855.2 628.3 854.07 628.7L852.32 629.31Q850.9 629.8 850 628.6L848.11 626.1Q846.6 624.1 844.56 622.66L842.73 621.37Q841.5 620.5 840.21 619.74L833.28 615.63Q830.7 614.1 830.7 611.1L830.7 591.8Q830.7 588.8 833.36 590.19Z" fill="#fdfefe" stroke="#717f86" stroke-width="1.25" stroke-linejoin="round"/><ellipse cx="840.1" cy="605" rx="3.5" ry="5.0" transform="rotate(-25 840.1 605)" fill="#e2ebf0" stroke="#717f86" stroke-width="1.15"/><polygon points="834.99,602.37 837.99,600.47 842.21,609.53 839.21,611.43" fill="#e2ebf0"/><polyline points="834.99,602.37 837.99,600.47" fill="none" stroke="#717f86" stroke-width="1.1" stroke-linejoin="round" stroke-linecap="round"/><polyline points="839.21,611.43 842.21,609.53" fill="none" stroke="#717f86" stroke-width="1.1" stroke-linejoin="round" stroke-linecap="round"/><ellipse cx="837.1" cy="606.9" rx="3.5" ry="5.0" transform="rotate(-25 837.1 606.9)" fill="#fdfefe" stroke="#717f86" stroke-width="1.15"/><ellipse cx="850.1" cy="611" rx="3.5" ry="5.0" transform="rotate(-25 850.1 611)" fill="#e2ebf0" stroke="#717f86" stroke-width="1.15"/><polygon points="845.37,609.18 847.99,606.47 852.21,615.53 848.83,616.62" fill="#e2ebf0"/><polyline points="845.37,609.18 847.99,606.47" fill="none" stroke="#717f86" stroke-width="1.1" stroke-linejoin="round" stroke-linecap="round"/><polyline points="848.83,616.62 852.21,615.53" fill="none" stroke="#717f86" stroke-width="1.1" stroke-linejoin="round" stroke-linecap="round"/><ellipse cx="847.1" cy="612.9" rx="2.9" ry="4.1" transform="rotate(-25 847.1 612.9)" fill="#ff9d0a" stroke="#717f86" stroke-width="1.15"/><ellipse cx="859.5" cy="617.2" rx="3.5" ry="5.0" transform="rotate(-25 859.5 617.2)" fill="#e2ebf0" stroke="#717f86" stroke-width="1.15"/><polygon points="854.39,614.57 857.39,612.67 861.61,621.73 858.61,623.63" fill="#e2ebf0"/><polyline points="854.39,614.57 857.39,612.67" fill="none" stroke="#717f86" stroke-width="1.1" stroke-linejoin="round" stroke-linecap="round"/><polyline points="858.61,623.63 861.61,621.73" fill="none" stroke="#717f86" stroke-width="1.1" stroke-linejoin="round" stroke-linecap="round"/><ellipse cx="856.5" cy="619.1" rx="3.5" ry="5.0" transform="rotate(-25 856.5 619.1)" fill="#fdfefe" stroke="#717f86" stroke-width="1.15"/></g>
<g><path d="M1085.81 626.82L1129.86 651.05Q1130.3 651.29 1130.3 651.79L1130.3 660.19Q1130.3 661.69 1128.99 660.97L1086.69 637.7Q1084.5 636.5 1084.5 634L1084.5 627.6Q1084.5 626.1 1085.81 626.82Z" fill="#fdfefe" stroke="#717f86" stroke-width="1.25" stroke-linejoin="round"/><path d="M1130.74 651.05L1174.79 626.82Q1176.1 626.1 1176.1 627.6L1176.1 634Q1176.1 636.5 1173.91 637.7L1131.61 660.97Q1130.3 661.69 1130.3 660.19L1130.3 651.79Q1130.3 651.29 1130.74 651.05Z" fill="#e3ebef" stroke="#717f86" stroke-width="1.25" stroke-linejoin="round"/><path d="M1086.25 625.14L1128.55 601.87Q1130.3 600.91 1132.05 601.87L1174.35 625.14Q1176.1 626.1 1174.35 627.06L1132.05 650.33Q1130.3 651.29 1128.55 650.33L1086.25 627.06Q1084.5 626.1 1086.25 625.14Z" fill="#fdfefe" stroke="#717f86" stroke-width="1.25" stroke-linejoin="round"/><polygon points="1119.1,648.73 1125.3,652.13 1125.3,655.13 1119.1,651.73" fill="#ff9d0a"/><polygon points="1106.3,611.6 1129.3,624.4 1129.3,636.8 1106.3,623.2" fill="#fdfefe" stroke="#717f86" stroke-width="1.25" stroke-linejoin="round"/><polygon points="1129.3,624.4 1152.6,611.6 1152.6,623.4 1129.3,636.8" fill="#e3ebef" stroke="#717f86" stroke-width="1.25" stroke-linejoin="round"/><polygon points="1106.3,611.6 1129.3,598.8 1152.6,611.6 1129.3,624.4" fill="#fdfefe" stroke="#717f86" stroke-width="1.25" stroke-linejoin="round"/><ellipse cx="1121.7" cy="625.9" rx="1.15" ry="1.5" fill="#e4e8ea" stroke="#5a666c" stroke-width="1.05"/><ellipse cx="1125.6" cy="628.5" rx="1.15" ry="1.5" fill="#e4e8ea" stroke="#5a666c" stroke-width="1.05"/><polygon points="1106.3,594.8 1129.3,607.7 1129.3,619.7 1106.3,606.9" fill="#fdfefe" stroke="#717f86" stroke-width="1.25" stroke-linejoin="round"/><polygon points="1129.3,607.7 1152.6,594.8 1152.6,607.5 1129.3,619.7" fill="#e3ebef" stroke="#717f86" stroke-width="1.25" stroke-linejoin="round"/><polygon points="1106.3,594.8 1129.3,582 1152.6,594.8 1129.3,607.7" fill="#fdfefe" stroke="#717f86" stroke-width="1.25" stroke-linejoin="round"/><polygon points="1120.7,593.3 1127.3,589.4 1138.2,595.6 1131.6,599.5" fill="#dfe8ec" stroke="#717f86" stroke-width="1.1" stroke-linejoin="round"/><ellipse cx="1121.3" cy="608.8" rx="1.15" ry="1.5" fill="#c99a62" stroke="#6a645a" stroke-width="1.05"/><ellipse cx="1125.6" cy="611.5" rx="1.15" ry="1.5" fill="#dfe3e5" stroke="#5a666c" stroke-width="1.05"/></g>
</svg></body></html>
